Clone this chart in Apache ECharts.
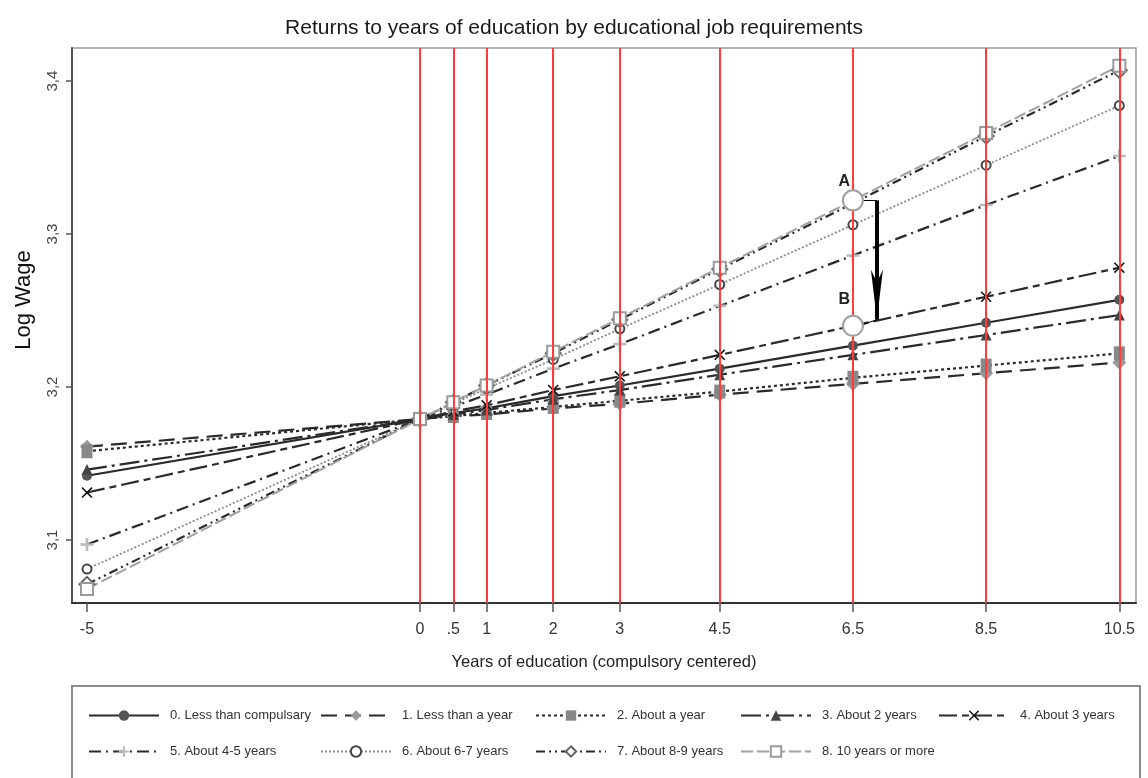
<!DOCTYPE html>
<html>
<head>
<meta charset="utf-8">
<script src="https://cdn.jsdelivr.net/npm/echarts@6/dist/echarts.min.js"></script>
<style>
  html, body { margin: 0; padding: 0; background: #fff; }
  #chart { width: 1148px; height: 778px; }
</style>
</head>
<body>
<div id="chart"></div>
<script>
// Years of education, centred on compulsory schooling
const years = [-5, 0, 0.5, 1, 2, 3, 4.5, 6.5, 8.5, 10.5];
const xTickLabels = ['-5', '0', '.5', '1', '2', '3', '4.5', '6.5', '8.5', '10.5'];
const yTicks = [3.1, 3.2, 3.3, 3.4];

// Predicted log wage by educational job requirement
const lessThanCompulsory = [3.142, 3.179, 3.183, 3.186, 3.194, 3.201, 3.212, 3.227, 3.242, 3.257];
const lessThanAYear     = [3.161, 3.179, 3.181, 3.182, 3.186, 3.189, 3.195, 3.202, 3.209, 3.216];
const aboutAYear        = [3.158, 3.179, 3.181, 3.183, 3.187, 3.191, 3.197, 3.206, 3.214, 3.222];
const about2Years       = [3.146, 3.179, 3.182, 3.185, 3.192, 3.198, 3.208, 3.221, 3.234, 3.247];
const about3Years       = [3.131, 3.179, 3.184, 3.188, 3.198, 3.207, 3.221, 3.240, 3.259, 3.278];
const about4to5Years    = [3.097, 3.179, 3.187, 3.195, 3.212, 3.228, 3.253, 3.286, 3.319, 3.351];
const about6to7Years    = [3.081, 3.179, 3.189, 3.199, 3.218, 3.238, 3.267, 3.306, 3.345, 3.384];
const about8to9Years    = [3.071, 3.179, 3.190, 3.201, 3.222, 3.244, 3.277, 3.320, 3.364, 3.407];
const tenOrMore         = [3.068, 3.179, 3.190, 3.201, 3.223, 3.245, 3.278, 3.322, 3.366, 3.410];

const seriesNames = [
  '0. Less than compulsary', '1. Less than a year', '2. About a year',
  '3. About 2 years', '4. About 3 years', '5. About 4-5 years',
  '6. About 6-7 years', '7. About 8-9 years', '8. 10 years or more'
];
const seriesValues = [
  lessThanCompulsory, lessThanAYear, aboutAYear, about2Years, about3Years,
  about4to5Years, about6to7Years, about8to9Years, tenOrMore
];

// Annotation: drop from A (8-9 years) to B (3 years) at 6.5 years
const pointA = [6.5, 3.322];
const pointB = [6.5, 3.240];
const arrowX = 6.86;

const CROSS = 'path://M1,0 L5,4 L9,0 L10,1 L6,5 L10,9 L9,10 L5,6 L1,10 L0,9 L4,5 L0,1 Z';
const PLUS = 'path://M4,0 H6 V4 H10 V6 H6 V10 H4 V6 H0 V4 H4 Z';

const styles = [
  { line: { color: '#2a2a2a', width: 2.2, type: 'solid' }, symbol: 'circle', size: 10, item: { color: '#555' } },
  { line: { color: '#2a2a2a', width: 2.2, type: [16, 8] }, symbol: 'diamond', size: 14, item: { color: '#999' } },
  { line: { color: '#2a2a2a', width: 2.2, type: [3, 3] }, symbol: 'rect', size: [11, 14], item: { color: '#888' } },
  { line: { color: '#2a2a2a', width: 2.2, type: [20, 5, 3, 5] }, symbol: 'triangle', size: 11, item: { color: '#444' } },
  { line: { color: '#2a2a2a', width: 2.2, type: [18, 5, 7, 5] }, symbol: CROSS, size: 11, item: { color: '#111' } },
  { line: { color: '#2a2a2a', width: 2.2, type: [12, 5, 2, 5] }, symbol: PLUS, size: 13, item: { color: '#bbb' } },
  { line: { color: '#8a8a8a', width: 1.8, type: [2, 2] }, symbol: 'emptyCircle', size: 9, item: { color: '#444', borderWidth: 2 } },
  { line: { color: '#2a2a2a', width: 2.2, type: [9, 4, 2, 4, 2, 4] }, symbol: 'emptyDiamond', size: 15, item: { color: '#666', borderWidth: 2 } },
  { line: { color: '#a0a0a0', width: 2, type: [12, 4] }, symbol: 'emptyRect', size: 12, item: { color: '#9a9a9a', borderWidth: 2 } }
];

const series = seriesNames.map((name, i) => ({
  name: name,
  type: 'line',
  z: 3,
  data: years.map((x, j) => [x, seriesValues[i][j]]),
  symbol: styles[i].symbol,
  symbolSize: styles[i].size,
  lineStyle: styles[i].line,
  itemStyle: styles[i].item,
  emphasis: { disabled: true },
  animation: false
}));

// Red reference lines at each education level (except the leftmost)
series.push({
  name: 'refLines',
  type: 'line',
  z: 1,
  data: [],
  silent: true,
  markLine: {
    silent: true,
    symbol: 'none',
    animation: false,
    label: { show: false },
    lineStyle: { color: '#ff3b3b', width: 2, type: 'solid' },
    data: years.slice(1).map(x => ({ xAxis: x }))
  }
});

// A/B annotation with arrow
series.push({
  name: 'annotation',
  type: 'line',
  z: 5,
  data: [],
  silent: true,
  markLine: {
    silent: true,
    animation: false,
    label: { show: false },
    data: [
      [{ coord: [pointA[0] + 0.12, pointA[1]], symbol: 'none', lineStyle: { color: '#000', width: 1, type: 'solid' } },
       { coord: [arrowX, pointA[1]], symbol: 'none' }],
      [{ coord: [arrowX, pointA[1]], symbol: 'none', lineStyle: { color: '#000', width: 4, type: 'solid' } },
       { coord: [arrowX, pointB[1] + 0.004], symbol: 'arrow', symbolSize: [9, 50] }],
      [{ coord: [arrowX, pointB[1] + 0.004], symbol: 'none', lineStyle: { color: '#000', width: 1, type: 'solid' } },
       { coord: [pointB[0] + 0.1, pointB[1]], symbol: 'none' }]
    ]
  },
  markPoint: {
    silent: true,
    animation: false,
    data: [
      { coord: pointA, symbol: 'emptyCircle', symbolSize: 20, itemStyle: { color: '#a0a0a0', borderWidth: 2 }, label: { show: false } },
      { coord: pointB, symbol: 'emptyCircle', symbolSize: 20, itemStyle: { color: '#a0a0a0', borderWidth: 2 }, label: { show: false } },
      { coord: [6.37, 3.334], symbol: 'circle', symbolSize: 0, label: { show: true, formatter: 'A', color: '#222', fontSize: 16, fontWeight: 'bold', fontFamily: 'Liberation Sans' } },
      { coord: [6.37, 3.257], symbol: 'circle', symbolSize: 0, label: { show: true, formatter: 'B', color: '#222', fontSize: 16, fontWeight: 'bold', fontFamily: 'Liberation Sans' } }
    ]
  }
});

// One legend block per entry, laid out in two rows
const legendSlots = [
  [88, 709], [320, 709], [535, 709], [740, 709], [938, 709],
  [88, 745], [320, 745], [535, 745], [740, 745]
];
const legends = seriesNames.map((name, i) => ({
  data: [name],
  left: legendSlots[i][0],
  top: legendSlots[i][1],
  itemWidth: 70,
  itemHeight: 13,
  padding: 0,
  selectedMode: false,
  textStyle: { fontSize: 13, color: '#333', fontFamily: 'Liberation Sans', padding: [0, 0, 0, 6] }
}));

const chart = echarts.init(document.getElementById('chart'), null, { renderer: 'canvas' });
chart.setOption({
  animation: false,
  backgroundColor: '#fff',
  textStyle: { fontFamily: 'Liberation Sans' },
  title: {
    text: 'Returns to years of education by educational job requirements',
    left: 'center',
    top: 13,
    textStyle: { fontSize: 21, fontWeight: 'normal', color: '#1a1a1a', fontFamily: 'Liberation Sans' }
  },
  legend: legends,
  grid: {
    left: 72, right: 12, top: 48, bottom: 175,
    show: true, borderColor: '#9a9a9a', borderWidth: 1.5, backgroundColor: '#fff'
  },
  xAxis: {
    type: 'value',
    min: -5.225,
    max: 10.75,
    name: 'Years of education (compulsory centered)',
    nameLocation: 'middle',
    nameGap: 51,
    nameTextStyle: { fontSize: 16.5, color: '#222' },
    splitLine: { show: false },
    axisLine: { onZero: false, lineStyle: { color: '#333', width: 2 } },
    axisTick: { length: 9, lineStyle: { color: '#555', width: 1.5 }, customValues: years },
    axisLabel: {
      customValues: years,
      fontSize: 16, color: '#333', margin: 19,
      formatter: v => xTickLabels[years.indexOf(v)] ?? ''
    }
  },
  yAxis: {
    type: 'value',
    min: 3.0588,
    max: 3.4216,
    splitLine: { show: false },
    axisLine: { show: true, onZero: false, lineStyle: { color: '#555', width: 2 } },
    axisTick: { show: true, length: 6, lineStyle: { color: '#555', width: 1.5 }, customValues: yTicks },
    axisLabel: {
      customValues: yTicks,
      fontSize: 15, color: '#444', rotate: 90, margin: 12,
      formatter: v => v.toFixed(1).replace('.', ',')
    }
  },
  graphic: [
    {
      type: 'text',
      x: 24, y: 300,
      rotation: Math.PI / 2,
      style: { text: 'Log Wage', fontSize: 22, fill: '#111', fontFamily: 'Liberation Sans', textAlign: 'center', textVerticalAlign: 'middle' }
    },
    {
      type: 'rect',
      shape: { x: 72, y: 686, width: 1068, height: 110 },
      style: { fill: 'none', stroke: '#8a8a8a', lineWidth: 2 },
      z: -1
    }
  ],
  series: series
});
</script>
</body>
</html>
